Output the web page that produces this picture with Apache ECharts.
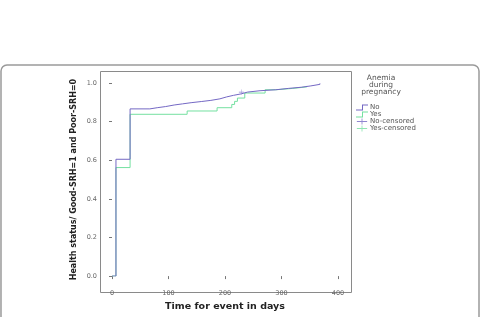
<!DOCTYPE html>
<html>
<head>
<meta charset="utf-8">
<script src="https://cdn.jsdelivr.net/npm/echarts@6/dist/echarts.min.js"></script>
<style>
html, body { margin: 0; padding: 0; background: #fff; }
#chart { width: 480px; height: 317px; }
</style>
</head>
<body>
<div id="chart"></div>
<script>
// 生存曲线数据
var noDays   = [0, 7, 32, 67, 80, 95, 110, 125, 140, 158, 175, 191, 203, 215, 229, 240, 262, 290, 312, 335, 352, 368];
var noVals   = [0, 0.605, 0.866, 0.872, 0.878, 0.886, 0.892, 0.898, 0.904, 0.91, 0.918, 0.928, 0.936, 0.944, 0.953, 0.96, 0.965, 0.972, 0.978, 0.985, 0.993, 0.998];
var yesDays  = [0, 7, 32, 133, 186, 212, 217, 222, 235, 271, 290, 320, 345];
var yesVals  = [0, 0.562, 0.838, 0.855, 0.872, 0.889, 0.905, 0.922, 0.948, 0.965, 0.972, 0.98, 0.985];
var noCensorDays = [229];
var noCensorVals = [0.953];
var yesCensorDays = [];
var yesCensorVals = [];
var legendTitle = ['Anemia', 'during', 'pregnancy'];
var legendNames = ['No', 'Yes', 'No-censored', 'Yes-censored'];

var purple = '#7468c4';
var green = '#74e0a0';
// 图例图标：阶梯线、十字
var stepIcon = 'path://M0,5 L6,5 L6,0 L12,0 L12,1 L7,1 L7,6 L0,6 Z';
var plusIcon = 'path://M0,3 L12,3 L12,4 L0,4 Z M5.5,0 L6.5,0 L6.5,7 L5.5,7 Z';

function pairs(xs, ys) {
    var out = [];
    for (var i = 0; i < xs.length; i++) out.push([xs[i], ys[i]]);
    return out;
}

var myChart = echarts.init(document.getElementById('chart'));
var option = {
    animation: false,
    textStyle: { fontFamily: 'DejaVu Sans' },
    grid: { left: 112, right: 142, top: 83, bottom: 36 },
    graphic: [
        // 外框
        { type: 'rect', shape: { x: 1, y: 65, width: 478, height: 270, r: 6 },
          style: { fill: 'none', stroke: '#9a9a9a', lineWidth: 1.5 }, silent: true },
        // 绘图区边框
        { type: 'rect', shape: { x: 100.5, y: 71.5, width: 251, height: 221 },
          style: { fill: 'none', stroke: '#8a8a8a', lineWidth: 1 }, silent: true },
        { type: 'text', x: 381, y: 75,
          style: { text: legendTitle.join('\n'), align: 'center', fill: '#555',
                   font: '7.5px "DejaVu Sans"', lineHeight: 7 } }
    ],
    legend: {
        orient: 'vertical', left: 351, top: 99, itemGap: 0,
        itemWidth: 12, itemHeight: 6,
        textStyle: { fontSize: 7, lineHeight: 6, color: '#555', padding: [0, 0, 0, -3] },
        data: [
            { name: legendNames[0], icon: stepIcon, itemStyle: { color: purple } },
            { name: legendNames[1], icon: stepIcon, itemStyle: { color: green } },
            { name: legendNames[2], icon: plusIcon, itemStyle: { color: purple } },
            { name: legendNames[3], icon: plusIcon, itemStyle: { color: green } }
        ]
    },
    xAxis: {
        type: 'value', min: 0, max: 400, interval: 100, offset: 11,
        name: 'Time for event in days', nameLocation: 'middle', nameGap: 14,
        nameTextStyle: { fontSize: 9.5, fontWeight: 'bold', color: '#222' },
        axisLine: { show: false },
        axisTick: { show: true, length: 3, lineStyle: { color: '#777' } },
        axisLabel: { fontSize: 6.5, color: '#666', margin: 3 },
        splitLine: { show: false }
    },
    yAxis: {
        type: 'value', min: 0, max: 1, interval: 0.2, offset: 12,
        name: 'Health status/ Good-SRH=1 and Poor-SRH=0', nameLocation: 'middle', nameGap: 22,
        nameTextStyle: { fontSize: 8, fontWeight: 'bold', color: '#222' },
        axisLine: { show: false },
        axisTick: { show: true, length: 3, lineStyle: { color: '#777' } },
        axisLabel: { fontSize: 6.5, color: '#666', margin: 3,
                     formatter: function (v) { return v.toFixed(1); } },
        splitLine: { show: false }
    },
    series: [
        { name: legendNames[1], type: 'line', step: 'end', symbol: 'none',
          lineStyle: { color: green, width: 1 }, itemStyle: { color: green },
          data: pairs(yesDays, yesVals) },
        { name: legendNames[0], type: 'line', step: 'end', symbol: 'none',
          lineStyle: { color: purple, width: 1 }, itemStyle: { color: purple },
          data: pairs(noDays, noVals) },
        { name: legendNames[2], type: 'scatter', symbol: plusIcon,
          symbolSize: 5, itemStyle: { color: purple }, data: pairs(noCensorDays, noCensorVals) },
        { name: legendNames[3], type: 'scatter', symbol: plusIcon,
          symbolSize: 5, itemStyle: { color: green }, data: pairs(yesCensorDays, yesCensorVals) }
    ]
};
myChart.setOption(option);
</script>
</body>
</html>
